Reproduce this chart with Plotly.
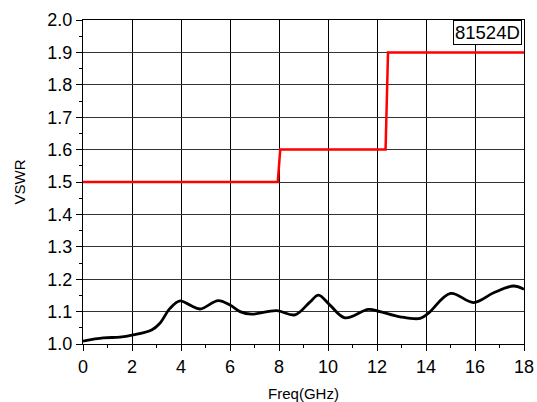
import plotly.graph_objects as go

# Measured VSWR curve
freq = [0, 0.83, 1.5, 2.05, 2.8, 3.14, 3.55, 3.96, 4.37, 4.78, 5.52, 6.0, 6.41, 6.88,
        7.9, 8.65, 9.27, 9.61, 10.08, 10.69, 11.65, 12.12, 12.94, 13.76, 14.1, 15.0,
        15.94, 16.76, 17.57, 18]
vswr = [1.009, 1.019, 1.021, 1.028, 1.043, 1.064, 1.11, 1.133, 1.12, 1.108, 1.134, 1.12,
        1.10, 1.092, 1.103, 1.09, 1.13, 1.151, 1.12, 1.081, 1.107, 1.10, 1.084, 1.079,
        1.095, 1.156, 1.128, 1.158, 1.179, 1.169]

# Specification limit
spec_freq = [0, 7.95, 8.05, 12.35, 12.45, 18]
spec_vswr = [1.5, 1.5, 1.6, 1.6, 1.9, 1.9]

legend_label = "81524D"

fig = go.Figure()
fig.add_trace(go.Scatter(x=spec_freq, y=spec_vswr, mode="lines",
                         line=dict(color="#ff0000", width=2.5), showlegend=False))
fig.add_trace(go.Scatter(x=freq, y=vswr, mode="lines",
                         line=dict(color="black", width=2.8, shape="spline", smoothing=1.0),
                         showlegend=False))

font = "Liberation Sans, Arial, sans-serif"
fig.update_layout(
    width=537, height=402,
    margin=dict(l=83, r=13, t=20, b=58),
    paper_bgcolor="white", plot_bgcolor="white",
    font=dict(family=font, color="black"),
    xaxis=dict(range=[0, 18], dtick=2, tick0=0, showgrid=True, gridcolor="black", gridwidth=1,
               showline=True, linecolor="black", linewidth=1, mirror=True,
               ticks="outside", ticklen=6, tickcolor="black", automargin=False,
               minor=dict(ticks="outside", dtick=1, ticklen=3, tickcolor="black", showgrid=False),
               tickfont=dict(size=18), zeroline=False,
               title=dict(text="Freq(GHz)", font=dict(size=15), standoff=14)),
    yaxis=dict(range=[1.0, 2.0], dtick=0.1, tick0=1.0, tickformat=".1f", showgrid=True,
               gridcolor="#333333", gridwidth=1, automargin=False,
               showline=True, linecolor="black", linewidth=1, mirror=True,
               ticks="outside", ticklen=6, tickcolor="black",
               minor=dict(ticks="outside", dtick=0.05, ticklen=3, tickcolor="black", showgrid=False),
               tickfont=dict(size=18), zeroline=False,
               title=dict(text="VSWR", font=dict(size=15), standoff=18)),
    annotations=[dict(text=legend_label, xref="paper", yref="paper", x=1, y=1,
                      xanchor="right", yanchor="top", xshift=-2, showarrow=False,
                      font=dict(size=18.5, family=font), bordercolor="black", borderwidth=1,
                      bgcolor="white", borderpad=1)],
)

fig.write_html("out.html", config={"displayModeBar": False},
               post_script="document.body.style.margin='0';document.body.style.padding='0';")
